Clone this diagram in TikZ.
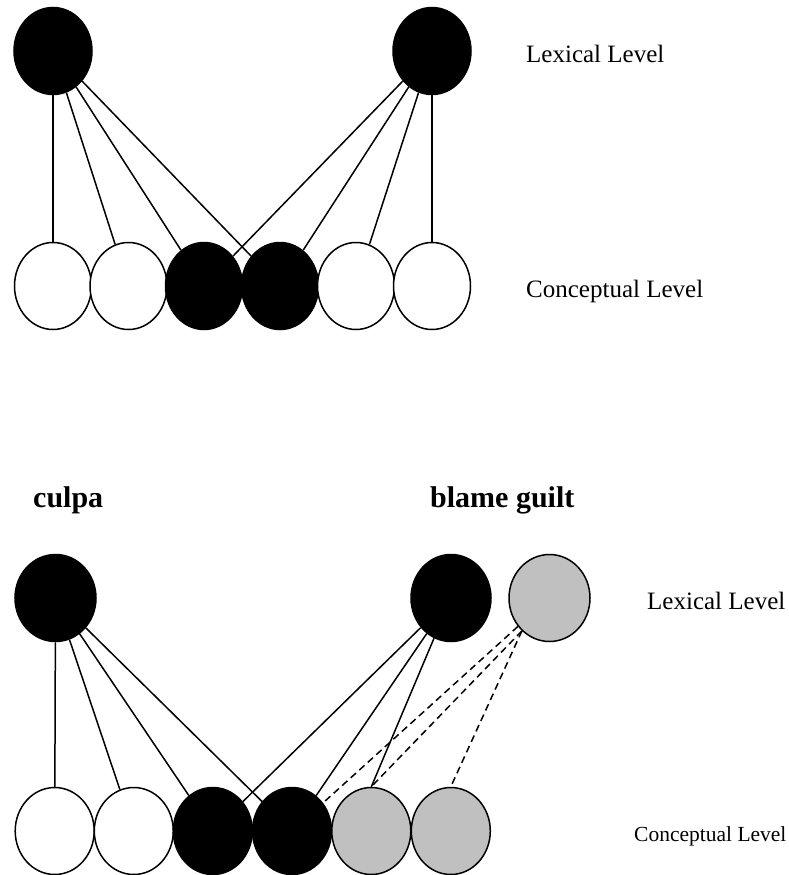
\documentclass[tikz,border=0pt]{standalone}
\usepackage{fontspec}
\setmainfont{Liberation Serif}
\usetikzlibrary{shapes.geometric}

\tikzset{
  unit/.style={ellipse, draw=black, line width=1.5pt, inner sep=0pt,
               minimum width=#1, minimum height=87pt},
  unit/.default=77pt,
  on/.style={unit, fill=black},
  off/.style={unit, fill=white},
  shade/.style={unit, fill=silverfill},
  lexon/.style={on, minimum width=78pt},
  tie/.style={line width=1.5pt, black},
  weak/.style={tie, dash pattern=on 7pt off 4.5pt},
  levellabel/.style={anchor=base west, inner sep=0pt, font=\fontsize{25}{30}\selectfont},
  wordlabel/.style={anchor=base west, inner sep=0pt, font=\fontsize{30}{36}\selectfont\bfseries},
}
\definecolor{silverfill}{RGB}{192,192,192}

\begin{document}
\begin{tikzpicture}[x=1pt, y=-1pt]
  \useasboundingbox (0,0) rectangle (788,875);

  % ---------- upper network ----------
  \node[lexon] (ta) at (53,51) {};
  \node[lexon] (tb) at (432,51) {};

  \node[off] (t1) at (53,286) {};
  \node[off] (t2) at (128.5,286) {};
  \node[on]  (t3) at (204,286) {};
  \node[on]  (t4) at (280,286) {};
  \node[off] (t5) at (356,286) {};
  \node[off] (t6) at (432,286) {};

  \foreach \k in {1,2,3,4} \draw[tie] (ta) -- (t\k);
  \foreach \k in {3,4,5,6} \draw[tie] (tb) -- (t\k);

  \node[levellabel] (tlex) at (526,63) {Lexical Level};
  \node[levellabel] (tcon) at (526,297) {Conceptual Level};

  % ---------- lower network ----------
  \node[wordlabel] (culpa) at (33,507) {culpa};
  \node[wordlabel] (bg) at (430,507) {blame guilt};

  \node[on, minimum width=81pt]    (culpaN) at (55.5,598) {};
  \node[on, minimum width=80pt]    (blameN) at (451,598) {};
  \node[shade, minimum width=81pt] (guiltN) at (549.5,598) {};

  \node[off, minimum width=79pt]   (b1) at (54.7,831) {};
  \node[off, minimum width=79pt]   (b2) at (133.8,831) {};
  \node[on, minimum width=79pt]    (b3) at (212.8,831) {};
  \node[on, minimum width=79pt]    (b4) at (292,831) {};
  \node[shade, minimum width=79pt] (b5) at (371.3,831) {};
  \node[shade, minimum width=79pt] (b6) at (450.8,831) {};

  \foreach \k in {1,2,3,4} \draw[tie] (culpaN) -- (b\k);
  \draw[tie] (blameN) -- (b3);
  \draw[tie] (blameN) -- (b4);
  \draw[tie] (blameN) -- (b5.north);

  \draw[weak] (guiltN.222) -- (b4);
  \draw[weak] (guiltN.230) -- (b5.north);
  \draw[weak] (guiltN.230) -- (b6.north);

  \node[levellabel] (blex) at (647,609) {Lexical Level};
  \node[levellabel, font=\fontsize{21.5}{26}\selectfont] (bcon) at (634,841) {Conceptual Level};
\end{tikzpicture}
\end{document}
